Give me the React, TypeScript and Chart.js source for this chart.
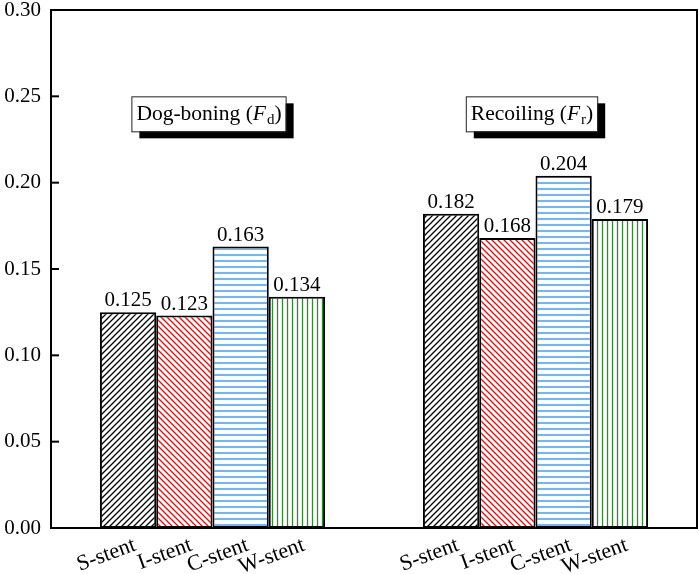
import React, { useEffect, useRef } from "react";
import { Chart, registerables } from "chart.js";

Chart.register(...registerables);

const categories = ["Dog-boning", "Recoiling"];
const boxMain = ["Dog-boning (", "Recoiling ("];
const boxSub = ["d", "r"];
const stents = ["S-stent", "I-stent", "C-stent", "W-stent"];
const sStent = [0.125, 0.182];
const iStent = [0.123, 0.168];
const cStent = [0.163, 0.204];
const wStent = [0.134, 0.179];
const yTickValues = [0, 0.05, 0.1, 0.15, 0.2, 0.25, 0.3];

const FONT = "'Liberation Serif', 'Times New Roman', serif";

function makePattern(kind: string, color: string): CanvasPattern | string {
  const c = document.createElement("canvas");
  const s = kind === "h" ? 6 : kind === "v" ? 5 : 6;
  c.width = s;
  c.height = s;
  const ctx = c.getContext("2d");
  if (!ctx) return "#fff";
  ctx.fillStyle = "#fff";
  ctx.fillRect(0, 0, s, s);
  ctx.strokeStyle = color;
  ctx.lineWidth = 1.3;
  ctx.beginPath();
  if (kind === "fwd") {
    ctx.moveTo(-1, s + 1);
    ctx.lineTo(s + 1, -1);
    ctx.moveTo(-1, 1);
    ctx.lineTo(1, -1);
    ctx.moveTo(s - 1, s + 1);
    ctx.lineTo(s + 1, s - 1);
  } else if (kind === "back") {
    ctx.moveTo(-1, -1);
    ctx.lineTo(s + 1, s + 1);
    ctx.moveTo(s - 1, -1);
    ctx.lineTo(s + 1, 1);
    ctx.moveTo(-1, s - 1);
    ctx.lineTo(1, s + 1);
  } else if (kind === "h") {
    ctx.moveTo(0, s / 2);
    ctx.lineTo(s, s / 2);
  } else {
    ctx.moveTo(s / 2, 0);
    ctx.lineTo(s / 2, s);
  }
  ctx.stroke();
  const p = ctx.createPattern(c, "repeat");
  return p || "#fff";
}

const decorPlugin = {
  id: "decor",
  afterDraw(chart: any) {
    const ctx = chart.ctx as CanvasRenderingContext2D;
    const area = chart.chartArea;
    const yScale = chart.scales.y;
    const xScale = chart.scales.x;
    ctx.save();
    // frame
    ctx.strokeStyle = "#000";
    ctx.lineWidth = 2;
    ctx.strokeRect(area.left, area.top, area.right - area.left, area.bottom - area.top);
    // inward ticks
    yTickValues.forEach((v) => {
      const y = yScale.getPixelForValue(v);
      ctx.beginPath();
      ctx.moveTo(area.left, y);
      ctx.lineTo(area.left + 8, y);
      ctx.stroke();
    });
    // value labels and x labels
    chart.data.datasets.forEach((ds: any, di: number) => {
      const meta = chart.getDatasetMeta(di);
      meta.data.forEach((el: any, i: number) => {
        const v = ds.data[i];
        ctx.fillStyle = "#000";
        ctx.font = `21px ${FONT}`;
        ctx.textAlign = "center";
        ctx.textBaseline = "bottom";
        ctx.fillText(v.toFixed(3), el.x, el.y - 1);
        ctx.save();
        ctx.translate(el.x + 9, area.bottom + 22);
        ctx.rotate((-20 * Math.PI) / 180);
        ctx.textAlign = "right";
        ctx.textBaseline = "alphabetic";
        ctx.font = `22px ${FONT}`;
        ctx.fillText(stents[di], 0, 0);
        ctx.restore();
      });
    });
    // annotation boxes
    const topY = yScale.getPixelForValue(0.25);
    const F = 21.5;
    categories.forEach((cat, i) => {
      const cx = xScale.getPixelForValue(i) - 4;
      ctx.font = `${F}px ${FONT}`;
      const w1 = ctx.measureText(boxMain[i]).width;
      ctx.font = `italic ${F}px ${FONT}`;
      const w2 = ctx.measureText("F").width;
      ctx.font = `15px ${FONT}`;
      const w3 = ctx.measureText(boxSub[i]).width;
      ctx.font = `${F}px ${FONT}`;
      const w4 = ctx.measureText(")").width;
      const tw = w1 + w2 + 1 + w3 + w4;
      const bw = tw + 9;
      const bh = 35;
      const bx = cx - bw / 2;
      ctx.fillStyle = "#000";
      ctx.fillRect(bx + 8, topY + 7, bw, bh);
      ctx.fillStyle = "#fff";
      ctx.fillRect(bx, topY, bw, bh);
      ctx.strokeStyle = "#222";
      ctx.lineWidth = 1;
      ctx.strokeRect(bx + 0.5, topY + 0.5, bw, bh);
      ctx.fillStyle = "#000";
      ctx.textAlign = "left";
      ctx.textBaseline = "alphabetic";
      let x = bx + 5;
      const base = topY + 24;
      ctx.font = `${F}px ${FONT}`;
      ctx.fillText(boxMain[i], x, base);
      x += w1;
      ctx.font = `italic ${F}px ${FONT}`;
      ctx.fillText("F", x, base);
      x += w2 + 1;
      ctx.font = `15px ${FONT}`;
      ctx.fillText(boxSub[i], x, base + 4);
      x += w3;
      ctx.font = `${F}px ${FONT}`;
      ctx.fillText(")", x, base);
    });
    ctx.restore();
  },
};

export default function App() {
  const ref = useRef<HTMLCanvasElement | null>(null);
  useEffect(() => {
    document.body.style.margin = "0";
    const canvas = ref.current;
    if (!canvas) return;
    const chart = new Chart(canvas, {
      type: "bar",
      data: {
        labels: categories,
        datasets: [
          { label: stents[0], data: sStent, backgroundColor: makePattern("fwd", "#000000") as any },
          { label: stents[1], data: iStent, backgroundColor: makePattern("back", "#ff0000") as any },
          { label: stents[2], data: cStent, backgroundColor: makePattern("h", "#1e90ff") as any },
          { label: stents[3], data: wStent, backgroundColor: makePattern("v", "#2e8b2e") as any },
        ].map((d) => ({
          ...d,
          borderColor: "#000",
          borderWidth: 2,
          borderSkipped: false as any,
          categoryPercentage: 0.697,
          barPercentage: 1,
        })),
      },
      options: {
        responsive: false,
        animation: false,
        layout: { padding: { top: 10, right: 2, left: 0, bottom: 0 } },
        plugins: { legend: { display: false }, tooltip: { enabled: false } },
        scales: {
          x: {
            grid: { display: false, drawTicks: false },
            border: { display: false },
            ticks: { display: false },
            afterFit(s: any) {
              s.height = 46;
              s.paddingLeft = 0;
              s.paddingRight = 0;
              s.paddingTop = 0;
              s.paddingBottom = 0;
            },
          },
          y: {
            min: 0,
            max: 0.3,
            grid: { display: false, drawTicks: false },
            border: { display: false },
            ticks: {
              stepSize: 0.05,
              color: "#000",
              padding: 10,
              font: { family: FONT, size: 21, lineHeight: 1 },
              callback: (v: any) => Number(v).toFixed(2),
            },
            afterFit(s: any) {
              s.width = 51;
              s.paddingTop = 0;
              s.paddingBottom = 0;
              s.paddingLeft = 0;
              s.paddingRight = 0;
            },
          },
        },
      },
      plugins: [decorPlugin],
    });
    return () => chart.destroy();
  }, []);
  return (
    <div style={{ position: "absolute", left: 0, top: 0, width: 699, height: 574, background: "#fff" }}>
      <canvas ref={ref} width={699} height={574} style={{ width: 699, height: 574 }} />
    </div>
  );
}
